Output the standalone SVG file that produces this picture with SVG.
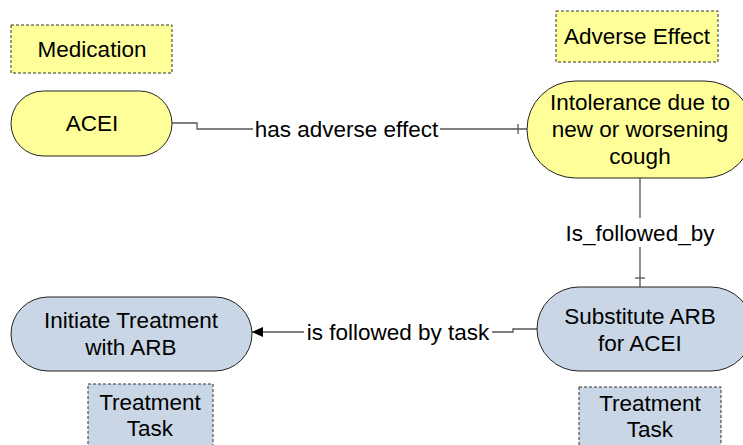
<svg xmlns="http://www.w3.org/2000/svg" width="743" height="445" viewBox="0 0 743 445">
  <defs>
    <style>
      .lbl { font-family: "Liberation Sans", Arial, sans-serif; font-size: 22.5px; fill: #000; text-anchor: middle; }
      .yel { fill: #FFFF99; stroke: #222; stroke-width: 1; }
      .blu { fill: #C9D6E6; stroke: #222; stroke-width: 1; }
      .dash { stroke-dasharray: 3 2; stroke: #333; }
      .conn { fill: none; stroke: #555; stroke-width: 1.3; }
    </style>
    <marker id="arrow" markerWidth="12" markerHeight="12" refX="11" refY="5" orient="auto" markerUnits="userSpaceOnUse">
      <path d="M0,0 L11,5 L0,10 Z" fill="#000"/>
    </marker>
  </defs>

  <g id="connectors">
    <polyline class="conn" points="172,123 197,123 197,129 253,129"/>
    <line class="conn" x1="440" y1="129" x2="527" y2="129"/>
    <line class="conn" x1="518" y1="124" x2="518" y2="134"/>
    <text class="lbl" x="346.5" y="137">has adverse effect</text>

    <line class="conn" x1="640" y1="178" x2="640" y2="218"/>
    <line class="conn" x1="640" y1="247" x2="640" y2="287"/>
    <line class="conn" x1="635" y1="278" x2="645" y2="278"/>
    <text class="lbl" x="640" y="241">Is_followed_by</text>

    <polyline class="conn" points="537,329 513,329 513,332 492,332"/>
    <line class="conn" x1="304" y1="332" x2="252" y2="332" marker-end="url(#arrow)"/>
    <text class="lbl" x="398" y="340">is followed by task</text>
  </g>

  <g id="medication-label">
    <rect class="yel dash" x="11" y="25" width="161" height="48"/>
    <text class="lbl" x="92" y="57">Medication</text>
  </g>

  <g id="adverse-effect-label">
    <rect class="yel dash" x="556" y="11" width="162" height="51"/>
    <text class="lbl" x="637" y="44">Adverse Effect</text>
  </g>

  <g id="acei">
    <rect class="yel" x="11" y="91" width="161" height="65" rx="32.5" ry="32.5"/>
    <text class="lbl" x="92" y="131">ACEI</text>
  </g>

  <g id="intolerance">
    <rect class="yel" x="527" y="81" width="226" height="97" rx="48.5" ry="48.5"/>
    <text class="lbl" x="640" y="110">Intolerance due to</text>
    <text class="lbl" x="640" y="137">new or worsening</text>
    <text class="lbl" x="640" y="164">cough</text>
  </g>

  <g id="substitute">
    <rect class="blu" x="537" y="287" width="216" height="84" rx="42" ry="42"/>
    <text class="lbl" x="640" y="324">Substitute ARB</text>
    <text class="lbl" x="640" y="351">for ACEI</text>
  </g>

  <g id="initiate">
    <rect class="blu" x="11" y="297" width="241" height="74" rx="37" ry="37"/>
    <text class="lbl" x="131" y="328">Initiate Treatment</text>
    <text class="lbl" x="131" y="355">with ARB</text>
  </g>

  <g id="treatment-task-left">
    <rect class="blu dash" x="88" y="384" width="125" height="70"/>
    <text class="lbl" x="150" y="410">Treatment</text>
    <text class="lbl" x="150" y="436">Task</text>
  </g>

  <g id="treatment-task-right">
    <rect class="blu dash" x="579" y="387" width="142" height="67"/>
    <text class="lbl" x="650" y="411">Treatment</text>
    <text class="lbl" x="650" y="437">Task</text>
  </g>
</svg>
